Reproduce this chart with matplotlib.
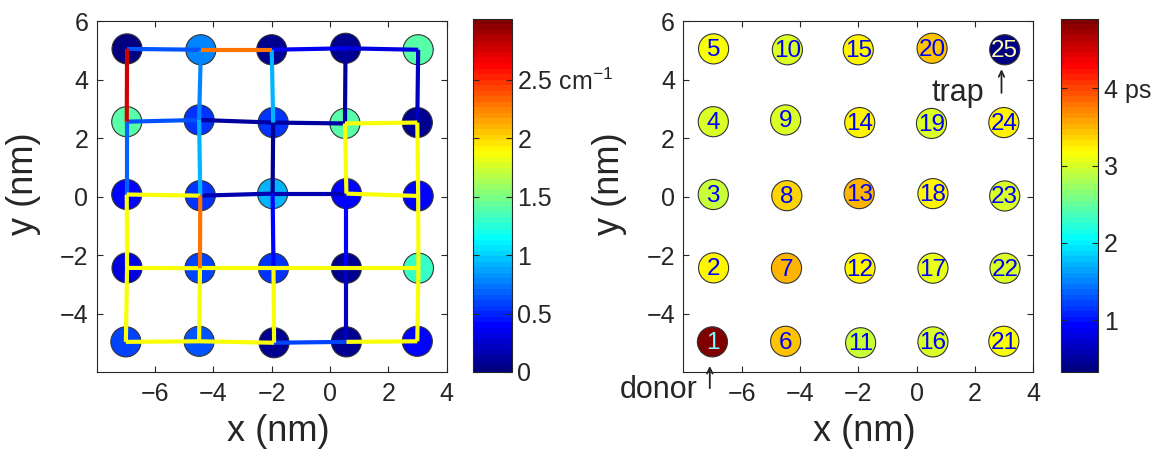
import numpy as np
import matplotlib
matplotlib.use('Agg')
import matplotlib.pyplot as plt
from matplotlib.collections import LineCollection
from matplotlib.colors import LinearSegmentedColormap

plt.rcParams['font.family'] = ['Liberation Sans', 'DejaVu Sans']
plt.rcParams['mathtext.default'] = 'regular'

# Node positions (nm); node n = 1..25, numbered column by column from bottom-left
node_x = [-7.00, -6.96, -6.97, -6.97, -6.96,
          -4.49, -4.46, -4.45, -4.49, -4.43,
          -1.92, -1.94, -1.97, -1.95, -2.00,
          0.56, 0.56, 0.56, 0.51, 0.53,
          2.99, 3.03, 3.02, 2.99, 3.02]
node_y = [-4.97, -2.44, 0.07, 2.56, 5.05,
          -4.95, -2.45, 0.03, 2.62, 5.02,
          -5.00, -2.45, 0.10, 2.53, 5.02,
          -4.97, -2.45, 0.10, 2.50, 5.07,
          -4.95, -2.45, 0.02, 2.53, 5.02]

# Left panel: site values (cm^-1)
site_val = [0.60, 0.31, 0.38, 1.38, 0.04,
            0.62, 0.60, 0.55, 0.53, 0.76,
            0.05, 0.55, 0.94, 0.55, 0.05,
            0.05, 0.08, 0.40, 1.40, 0.05,
            0.41, 1.30, 0.40, 0.05, 1.38]

# Left panel: couplings between neighbouring nodes (cm^-1)
edge_a = [5, 10, 15, 20, 4, 9, 14, 19, 3, 8, 13, 18, 2, 7, 12, 17, 1, 6, 11, 16,
          4, 3, 2, 1, 9, 8, 7, 6, 14, 13, 12, 11, 19, 18, 17, 16, 24, 23, 22, 21]
edge_b = [10, 15, 20, 25, 9, 14, 19, 24, 8, 13, 18, 23, 7, 12, 17, 22, 6, 11, 16, 21,
          5, 4, 3, 2, 10, 9, 8, 7, 15, 14, 13, 12, 20, 19, 18, 17, 25, 24, 23, 22]
edge_val = [0.66, 2.31, 0.35, 0.30, 0.66, 0.13, 0.13, 1.88, 1.88, 0.15, 0.15, 1.88,
            1.88, 1.88, 1.88, 1.88, 1.88, 1.88, 0.60, 1.88,
            2.78, 0.68, 1.88, 1.88, 0.76, 0.90, 2.30, 1.88,
            0.93, 0.08, 0.40, 1.88, 0.12, 1.88, 0.40, 0.23, 0.20, 1.88, 1.88, 1.88]

# Right panel: lifetimes (ps)
life_val = [4.85, 3.23, 2.97, 3.01, 3.12,
            3.42, 3.50, 3.40, 3.00, 3.01,
            2.96, 3.22, 3.49, 3.19, 3.19,
            3.00, 3.08, 3.20, 2.98, 3.44,
            3.12, 2.98, 3.00, 3.22, 0.39]

cbar1_ticks = [0, 0.5, 1, 1.5, 2, 2.5]
cbar1_labels = ['0', '0.5', '1', '1.5', '2', '2.5 cm$^{-1}$']
cbar2_ticks = [1, 2, 3, 4]
cbar2_labels = ['1', '2', '3', '4 ps']

# MATLAB style jet, 64 levels
jet = LinearSegmentedColormap('mjet', {
    'red':   [(0, 0, 0), (3/8, 0, 0), (5/8, 1, 1), (7/8, 1, 1), (1, 0.5, 0.5)],
    'green': [(0, 0, 0), (1/8, 0, 0), (3/8, 1, 1), (5/8, 1, 1), (7/8, 0, 0), (1, 0, 0)],
    'blue':  [(0, 0.5, 0.5), (1/8, 1, 1), (3/8, 1, 1), (5/8, 0, 0), (1, 0, 0)],
}, N=64)
ink = '#262626'

fig = plt.figure(figsize=(11.61, 4.51), dpi=100)
ax1 = fig.add_axes([0.0833, 0.1752, 0.3015, 0.778])
cax1 = fig.add_axes([0.4077, 0.1752, 0.0331, 0.783])
ax2 = fig.add_axes([0.5885, 0.1752, 0.3015, 0.778])
cax2 = fig.add_axes([0.9136, 0.1752, 0.0324, 0.783])

nx = np.array(node_x)
ny = np.array(node_y)

# --- left panel: couplings and site energies
sc1 = ax1.scatter(nx, ny, c=site_val, cmap=jet, vmin=0, vmax=3.02, s=470,
                  edgecolors='#333333', linewidths=0.8, zorder=2)
ia = np.array(edge_a) - 1
ib = np.array(edge_b) - 1
order = np.argsort(edge_val, kind='stable')
segs = [[(nx[ia[k]], ny[ia[k]]), (nx[ib[k]], ny[ib[k]])] for k in order]
lc = LineCollection(segs, cmap=jet, linewidths=3.0, zorder=3, capstyle='butt')
lc.set_array(np.array(edge_val)[order])
lc.set_clim(0, 3.02)
ax1.add_collection(lc)

# --- right panel: lifetimes
sc2 = ax2.scatter(nx, ny, c=life_val, cmap=jet, vmin=0.33, vmax=4.9, s=470,
                  edgecolors='#333333', linewidths=0.8, zorder=2)
for n in range(25):
    col = 'blue'
    if n == 0:
        col = '#80ffff'
    elif n == 24:
        col = '#ffffb0'
    ax2.text(nx[n], ny[n] - 0.05, str(n + 1), ha='center', va='center',
             color=col, fontsize=17.5, zorder=4)

ax2.annotate('', xy=(2.91, 4.45), xytext=(2.91, 3.45),
             arrowprops=dict(arrowstyle='->', color=ink, lw=1.3))
ax2.text(1.4, 3.55, 'trap', ha='center', va='center', fontsize=22, color=ink)
ax2.annotate('', xy=(-7.09, -5.7), xytext=(-7.09, -6.65),
             arrowprops=dict(arrowstyle='->', color=ink, lw=1.3),
             annotation_clip=False)
ax2.text(-7.5, -6.6, 'donor', ha='right', va='center', fontsize=22, color=ink,
         clip_on=False)

for ax in (ax1, ax2):
    ax.set_xlim(-8, 4)
    ax.set_ylim(-6, 6)
    ax.set_xticks([-6, -4, -2, 0, 2, 4])
    ax.set_yticks([-4, -2, 0, 2, 4, 6])
    ax.tick_params(direction='in', top=True, right=True, length=4, width=0.8,
                   labelsize=18, colors=ink)
    ax.tick_params(axis='x', pad=7)
    ax.tick_params(axis='y', pad=6)
    for s in ax.spines.values():
        s.set_color(ink)
        s.set_linewidth(0.8)
    ax.set_xlabel('x (nm)', fontsize=26, color=ink)
    ax.set_ylabel('y (nm)', fontsize=26, color=ink)
    ax.xaxis.set_label_coords(0.518, -0.12)
    ax.yaxis.set_label_coords(-0.16, 0.538)

cb1 = fig.colorbar(sc1, cax=cax1, ticks=cbar1_ticks)
cb1.ax.set_yticklabels(cbar1_labels)
cb2 = fig.colorbar(sc2, cax=cax2, ticks=cbar2_ticks)
cb2.ax.set_yticklabels(cbar2_labels)
for cb in (cb1, cb2):
    cb.outline.set_edgecolor(ink)
    cb.outline.set_linewidth(0.8)
    cb.ax.tick_params(direction='in', left=True, right=True, length=4, width=0.8,
                      labelsize=18, colors=ink, pad=4)

fig.savefig('out.png', dpi=100)
